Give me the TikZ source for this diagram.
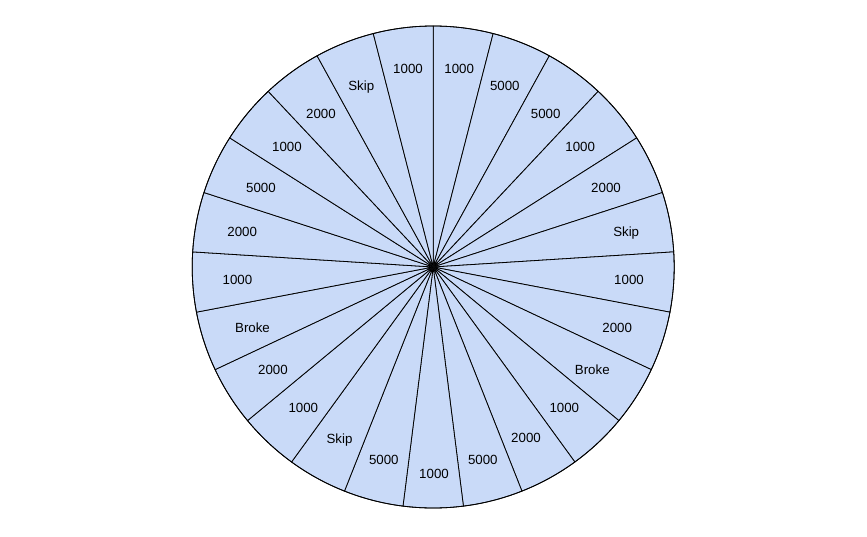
\documentclass[tikz,border=0pt]{standalone}
\usepackage{fontspec}
\setmainfont{Liberation Sans}
\usetikzlibrary{calc}
\definecolor{slicefill}{HTML}{C9DAF8}
\begin{document}
\begin{tikzpicture}[x=1pt,y=1pt,
  slicestyle/.style={fill=slicefill,draw=black,line width=0.8pt,line join=round},
  lblstyle/.style={font=\fontsize{13.3}{16}\selectfont,inner sep=0pt,text height=9.5pt,text depth=0pt}]
\path[use as bounding box,fill=white] (0,0) rectangle (867,-536);
\coordinate (C) at (433.2,-267);
\def\R{241}
\foreach \i in {0,...,24}{
  \pgfmathsetmacro{\a}{90-14.4*\i}
  \pgfmathsetmacro{\b}{90-14.4*(\i+1)}
  \filldraw[slicestyle] (C) -- ($(C)+(\a:\R)$) arc[start angle=\a,end angle=\b,radius=\R] -- cycle;
}
\draw[line width=0.8pt] (C) circle[radius=\R];
\foreach \lab/\x/\y [count=\i from 0] in {
  1000/459.2/68.3, 5000/504.8/86, 5000/545.7/113.3, 1000/580.2/147,
  2000/606/187.3, Skip/626.2/231.7, 1000/629/280, 2000/617.2/327.3,
  Broke/592.3/369.3, 1000/564.3/407.3, 2000/526/437.5, 5000/482.8/460,
  1000/434/474, 5000/383.8/460, Skip/339.5/438.3, 1000/303.3/407.3,
  2000/273/370, Broke/252.5/327.3, 1000/237.5/280, 2000/242.2/232,
  5000/261/187.3, 1000/287/147, 2000/321/113.3, Skip/361.3/85.7,
  1000/408/68.3}{
  \node[lblstyle] (lbl\i) at (\x,-\y) {\lab};
}
\end{tikzpicture}
\end{document}
